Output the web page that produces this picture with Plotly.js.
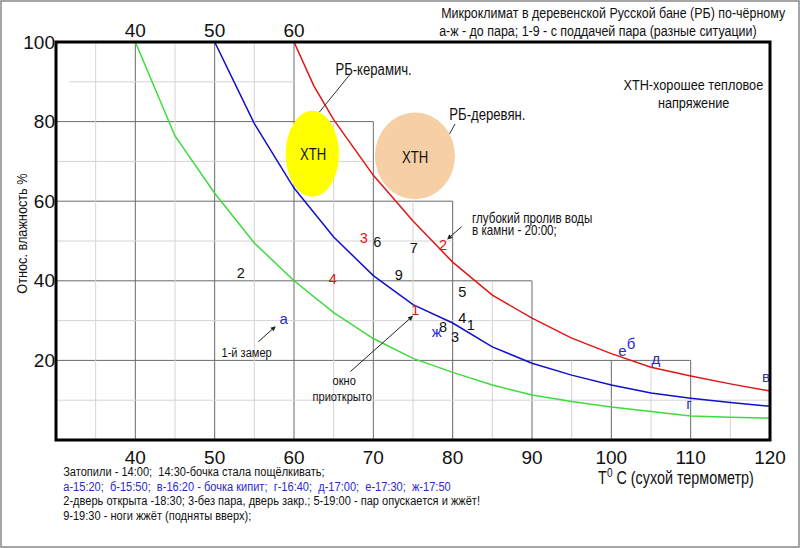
<!DOCTYPE html>
<html>
<head>
<meta charset="utf-8">
<script src="https://cdn.plot.ly/plotly-3.0.1.min.js"></script>
<style>html,body{margin:0;padding:0;background:#fff;}#chart{width:800px;height:548px;}</style>
</head>
<body>
<div id="chart"></div>
<script>
// ---- data ----
const greenT = [40, 45, 50, 55, 60, 65, 70, 75, 80, 85, 90, 95, 100, 105, 110, 115, 120];
const greenRH = [100, 76.4, 62, 49.5, 40, 32, 25.5, 20.5, 17, 13.8, 11.3, 9.7, 8.3, 7.1, 6.0, 5.7, 5.5];
const blueT = [50, 55, 60, 65, 70, 75, 80, 85, 90, 95, 100, 105, 110, 115, 120];
const blueRH = [100, 79.5, 63.3, 51, 41.3, 34, 29.4, 23.4, 19.3, 16.3, 13.8, 11.8, 10.5, 9.4, 8.5];
const redT = [60, 62.5, 65, 70, 75, 80, 85, 90, 95, 100, 105, 110, 115, 120];
const redRH = [100, 89, 80.5, 66.5, 55, 44.7, 36.4, 30.6, 25.6, 21.7, 18.3, 16.1, 14.1, 12.3];

const blackLabels = ['2', '6', '7', '9', '5', '4', '1', '8', '3'];
const blackX = [53.3, 70.5, 75.1, 73.2, 81.2, 81.2, 82.3, 78.8, 80.3];
const blackY = [41.5, 49.5, 48.0, 41.0, 36.9, 30.2, 28.6, 28.1, 25.6];
const redLabels = ['3', '4', '1', '2'];
const redX = [68.8, 64.9, 75.3, 78.8];
const redY = [50.3, 40.0, 32.4, 48.7];
const blueLabels = ['а', 'ж', 'е', 'б', 'д', 'в', 'г'];
const blueX = [58.7, 78.0, 101.4, 102.5, 105.6, 119.5, 109.8];
const blueY = [30.2, 26.9, 22.1, 23.9, 20.1, 15.6, 8.8];

const bottomTicks = [40, 50, 60, 70, 80, 90, 100, 110, 120];
const topTicks = [40, 50, 60];
const leftTicks = [20, 40, 60, 80, 100];

// staircase grid: [x, top y]
const darkV = [[40, 100], [50, 100], [60, 100], [70, 80], [80, 60], [90, 40], [100, 20], [110, 20]];
const darkH = [[80, 70], [60, 80], [40, 90], [20, 110]];
const lightV = [[35, 100], [45, 100], [55, 100], [65, 80], [75, 60], [85, 40], [95, 20], [105, 20], [115, 10]];
const lightH = [[90, 31.6, 60], [70, 30, 70], [50, 30, 80], [30, 30, 90], [10, 30, 120]];

// ---- layout helpers ----
const SANS = '"Liberation Sans", Arial, sans-serif';
const NARROW_SCALE = 0.82; // emulate Arial Narrow by horizontal compression
const M = {l: 56, r: 30, t: 42, b: 108};
const PW = 800 - M.l - M.r, PH = 548 - M.t - M.b;

const shapes = [];
darkV.forEach(([x, yt]) => shapes.push({type: 'line', xref: 'x', yref: 'y', x0: x, x1: x, y0: 0, y1: yt, line: {color: '#6a6a6a', width: 1}, layer: 'below'}));
darkH.forEach(([y, xr]) => shapes.push({type: 'line', xref: 'x', yref: 'y', x0: 30, x1: xr, y0: y, y1: y, line: {color: '#6a6a6a', width: 1}, layer: 'below'}));
lightV.forEach(([x, yt]) => shapes.push({type: 'line', xref: 'x', yref: 'y', x0: x, x1: x, y0: 0, y1: yt, line: {color: '#d4d4d4', width: 1}, layer: 'below'}));
lightH.forEach(([y, xl, xr]) => shapes.push({type: 'line', xref: 'x', yref: 'y', x0: xl, x1: xr, y0: y, y1: y, line: {color: '#d4d4d4', width: 1}, layer: 'below'}));
// ellipses
shapes.push({type: 'circle', xref: 'x', yref: 'y', x0: 58.95, x1: 65.67, y0: 61.1, y1: 82.7, fillcolor: '#ffff00', line: {width: 0}, layer: 'above'});
shapes.push({type: 'circle', xref: 'x', yref: 'y', x0: 70.2, x1: 80.3, y0: 60.5, y1: 82.3, fillcolor: '#f6cfa4', line: {width: 0}, layer: 'above'});
// leader lines
shapes.push({type: 'line', xref: 'x', yref: 'y', x0: 67.0, y0: 91.7, x1: 63.2, y1: 82.4, line: {color: '#333', width: 1}});
shapes.push({type: 'line', xref: 'x', yref: 'y', x0: 80.3, y0: 79.4, x1: 79.6, y1: 76.9, line: {color: '#333', width: 1}});
// plot frame
shapes.push({type: 'rect', xref: 'paper', yref: 'paper', x0: 0, x1: 1, y0: 0, y1: 1, line: {color: '#000', width: 3}});
// outer frame
shapes.push({type: 'rect', xref: 'paper', yref: 'paper', x0: -(M.l - 1) / PW, x1: 1 + (M.r - 1) / PW, y0: -(M.b - 1) / PH, y1: 1 + (M.t - 1) / PH, line: {color: '#888', width: 1.5}});

function txt(text, xpx, ypx, size, opt) {
  return Object.assign({
    text: text, xref: 'paper', yref: 'paper',
    x: (xpx - M.l) / PW, y: 1 - (ypx - M.t) / PH,
    showarrow: false, xanchor: 'center', yanchor: 'middle',
    font: {family: SANS, size: size, color: '#111'}
  }, opt || {});
}
function arrow(x, y, ax, ay) {
  return {x: x, y: y, xref: 'x', yref: 'y', ax: ax, ay: ay, text: '', showarrow: true,
    arrowhead: 2, arrowsize: 1, arrowwidth: 1, arrowcolor: '#222'};
}

const annotations = [
  txt('Микроклимат в деревенской Русской бане (РБ) по-чёрному', 439, 13, 15.2, {xanchor: 'left'}),
  txt('а-ж - до пара; 1-9 - с поддачей пара (разные ситуации)', 437, 30, 15.2, {xanchor: 'left'}),
  txt('ХТН-хорошее тепловое', 693, 84, 15.5),
  txt('напряжение', 693, 102, 15.5),
  txt('РБ-керамич.', 373, 69, 16),
  txt('РБ-деревян.', 487, 115, 16),
  txt('ХТН', 313, 154, 16),
  txt('ХТН', 415, 158, 16),
  txt('глубокий пролив воды', 470, 218, 14.2, {xanchor: 'left'}),
  txt('в камни - 20:00;', 470, 230, 14.2, {xanchor: 'left'}),
  txt('1-й замер', 246, 352, 13.5),
  txt('окно', 344, 380, 13.5),
  txt('приоткрыто', 342, 396, 13.5),
  txt('Т<sup>0</sup> С (сухой термометр)', 676, 477, 17.5),
  txt('Относ. влажность %', 21, 234, 15.5, {textangle: -90}),
  txt('Затопили - 14:00;  14:30-бочка стала пощёлкивать;', 61, 472, 13.5, {xanchor: 'left'}),
  txt('а-15:20;  б-15:50;  в-16:20 - бочка кипит;  г-16:40;  д-17:00;  е-17:30;  ж-17:50', 61, 486, 13.5, {xanchor: 'left', font: {family: SANS, size: 13.5, color: '#2a2ad0'}}),
  txt('2-дверь открыта -18:30; 3-без пара, дверь закр.; 5-19:00 - пар опускается и жжёт!', 61, 500, 13.5, {xanchor: 'left'}),
  txt('9-19:30 - ноги жжёт (подняты вверх);', 61, 515, 13.5, {xanchor: 'left'}),
  arrow(57.7, 28.6, -19, 17),
  arrow(75.0, 31.2, -64, 57),
  arrow(79.3, 50.4, 16, -14)
];

const traces = [
  {x: greenT, y: greenRH, mode: 'lines', line: {color: '#3ddc3d', width: 1.5}, hoverinfo: 'skip'},
  {x: blueT, y: blueRH, mode: 'lines', line: {color: '#1010cc', width: 1.5}, hoverinfo: 'skip'},
  {x: redT, y: redRH, mode: 'lines', line: {color: '#e01515', width: 1.5}, hoverinfo: 'skip'},
  {x: blackX, y: blackY, text: blackLabels, mode: 'text', textfont: {family: SANS, size: 14.5, color: '#111'}, cliponaxis: false, hoverinfo: 'skip'},
  {x: redX, y: redY, text: redLabels, mode: 'text', textfont: {family: SANS, size: 14.5, color: '#e01515'}, cliponaxis: false, hoverinfo: 'skip'},
  {x: blueX, y: blueY, text: blueLabels, mode: 'text', textfont: {family: SANS, size: 15, color: '#2a2ad0'}, cliponaxis: false, hoverinfo: 'skip'},
  {x: topTicks, y: [null, null, null], xaxis: 'x2', mode: 'lines', hoverinfo: 'skip'}
];

const layout = {
  width: 800, height: 548,
  margin: M,
  paper_bgcolor: '#fff', plot_bgcolor: '#fff',
  showlegend: false,
  xaxis: {range: [30, 120], tickvals: bottomTicks, ticktext: bottomTicks.map(String), showgrid: false, zeroline: false, showline: false, ticks: '', ticklabelstandoff: 4, tickfont: {family: SANS, size: 19, color: '#111'}},
  xaxis2: {overlaying: 'x', side: 'top', matches: 'x', range: [30, 120], tickvals: topTicks, ticktext: topTicks.map(String), showgrid: false, zeroline: false, showline: false, ticks: '', tickfont: {family: SANS, size: 19, color: '#111'}},
  yaxis: {range: [0, 100], tickvals: leftTicks, ticktext: leftTicks.map(String), showgrid: false, zeroline: false, showline: false, ticks: '', tickfont: {family: SANS, size: 19, color: '#111'}},
  shapes: shapes,
  annotations: annotations
};

Plotly.newPlot('chart', traces, layout, {staticPlot: true, displayModeBar: false}).then(function (gd) {
  // condense annotation text horizontally (narrow typeface look)
  gd.querySelectorAll('g.annotation').forEach(function (g) {
    const idx = +g.getAttribute('data-index');
    const ann = layout.annotations[idx];
    if (!ann || !ann.text) return;
    const t = g.querySelector('text.annotation-text');
    if (!t) return;
    const bb = t.getBBox();
    const a = ann.xanchor === 'left' ? bb.x : bb.x + bb.width / 2;
    t.setAttribute('transform', 'translate(' + a + ' 0) scale(' + NARROW_SCALE + ' 1) translate(' + (-a) + ' 0)');
  });
});
</script>
</body>
</html>
